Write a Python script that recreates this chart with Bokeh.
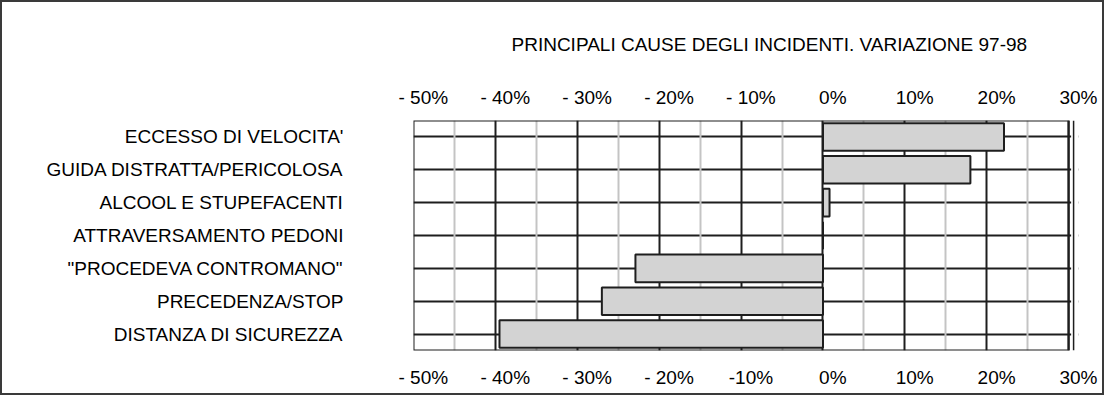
from bokeh.plotting import figure
from bokeh.models import Range1d, FactorRange, LinearAxis, FixedTicker, Grid, BoxAnnotation, Span
from bokeh.embed import file_html
from bokeh.resources import INLINE

# ---- data ----
categories = ["ECCESSO DI VELOCITA'", "GUIDA DISTRATTA/PERICOLOSA", "ALCOOL E STUPEFACENTI",
              "ATTRAVERSAMENTO PEDONI", '"PROCEDEVA CONTROMANO"', "PRECEDENZA/STOP",
              "DISTANZA DI SICUREZZA"]
variation = [22.1, 18.0, 0.8, 0.0, -22.9, -27.0, -39.5]

tick_values = [-50, -40, -30, -20, -10, 0, 10, 20, 30]
top_tick_labels = ["- 50%", "- 40%", "- 30%", "- 20%", "- 10%", "0%", "10%", "20%", "30%"]
bottom_tick_labels = ["- 50%", "- 40%", "- 30%", "- 20%", "-10%", "0%", "10%", "20%", "30%"]
minor_grid_values = [-45, -35, -25, -15, -5, 5, 15, 25]

title_text = "PRINCIPALI CAUSE DEGLI INCIDENTI. VARIAZIONE 97-98"

x_start, x_end = -50, 30

FONT = "Liberation Sans"
FS = "19px"
DARK = "#1e1e1e"
label_shift = 1.2  # tick labels sit slightly right of their gridlines in the original

p = figure(width=1104, height=395,
           x_range=Range1d(x_start, x_end + label_shift),
           y_range=FactorRange(*reversed(categories)),
           x_axis_location=None, y_axis_location="left",
           output_backend="svg", toolbar_location=None,
           min_border_left=411, min_border_right=28, min_border_top=109, min_border_bottom=47)
p.styles = {"border": "2px solid #3a3a3a"}

# label range: same scale, shifted so labels sit a little right of their gridlines
p.extra_x_ranges = {"lab": Range1d(x_start - label_shift, x_end)}

p.title.text = title_text
p.title.align = "left"
p.title.offset = 98
p.title.text_font = FONT
p.title.text_font_size = FS
p.title.text_font_style = "normal"
p.title.text_color = "black"
p.title.standoff = 58

def mk_axis(labels, standoff):
    ax = LinearAxis(x_range_name="lab", ticker=FixedTicker(ticks=tick_values),
                    major_label_overrides=dict(zip(tick_values, labels)))
    ax.axis_line_color = None
    ax.major_tick_line_color = None
    ax.minor_tick_line_color = None
    ax.major_label_text_font = FONT
    ax.major_label_text_font_size = FS
    ax.major_label_text_color = "black"
    ax.major_label_standoff = standoff
    return ax

p.add_layout(mk_axis(top_tick_labels, 7), "above")
p.add_layout(mk_axis(bottom_tick_labels, 10), "below")

yax = p.yaxis[0]
yax.axis_line_color = None
yax.major_tick_line_color = None
yax.minor_tick_line_color = None
yax.major_label_text_font = FONT
yax.major_label_text_font_size = FS
yax.major_label_text_color = "black"
yax.major_label_standoff = 64

p.ygrid.grid_line_color = DARK
p.ygrid.grid_line_width = 2

p.add_layout(Grid(dimension=0, ticker=FixedTicker(ticks=minor_grid_values),
                  grid_line_color="#c4c4c4", grid_line_width=2))
p.add_layout(Grid(dimension=0, ticker=FixedTicker(ticks=tick_values),
                  grid_line_color=DARK, grid_line_width=2))

p.hbar(y=categories, left=0, right=variation, height=0.84,
       fill_color="#d3d3d3", line_color=DARK, line_width=2)

# blank strip right of the plot box (frame is wider only to host the shifted 30% label)
p.add_layout(BoxAnnotation(left=x_end + 0.3, fill_color="white", fill_alpha=1.0,
                           line_color=None, level="underlay"))
# shadow line on the right of the plot box
p.add_layout(Span(location=x_end + 0.6, dimension="height", line_color=DARK, line_width=1.5))
# plot box outline
p.add_layout(BoxAnnotation(left=x_start, right=x_end, fill_color=None, fill_alpha=0,
                           line_color=DARK, line_width=2, line_alpha=1.0))

p.outline_line_color = None
p.background_fill_color = "white"
p.border_fill_color = "white"

open("out.html", "w").write(file_html(p, INLINE))
